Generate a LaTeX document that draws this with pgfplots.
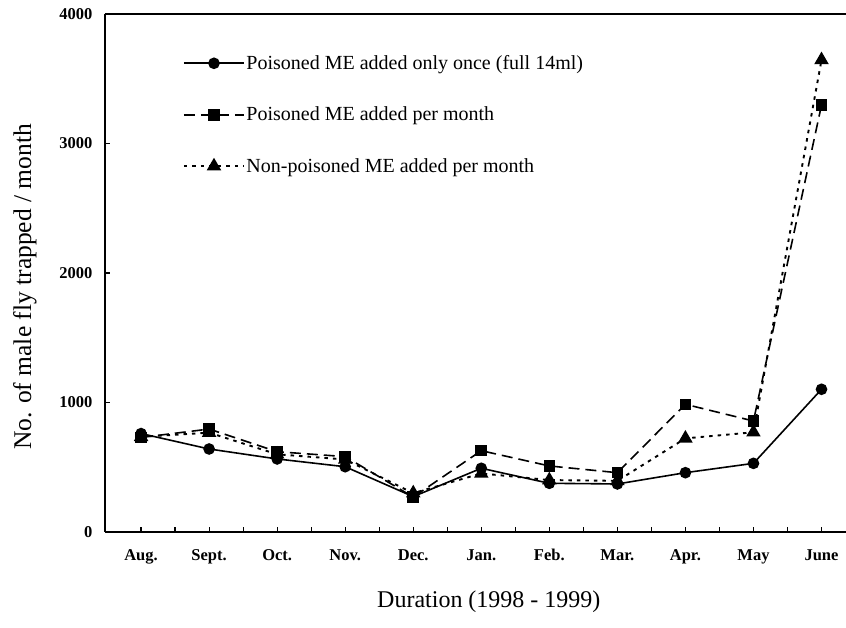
\documentclass[border=0pt]{standalone}
\usepackage{fontspec}
\setmainfont{Liberation Serif}
\usepackage{pgfplots}
\pgfplotsset{compat=1.18}

\begin{document}
\begin{tikzpicture}
\begin{axis}[
    scale only axis,
    width=741pt, height=518pt,
    xmin=-0.53, xmax=10.36,
    ymin=0, ymax=4000,
    axis x line=box, axis y line=left,
    axis line style={-, line width=1.6pt},
    xtick={0,...,10},
    xticklabels={Aug.,Sept.,Oct.,Nov.,Dec.,Jan.,Feb.,Mar.,Apr.,May,June},
    minor x tick num=1,
    xtick pos=bottom,
    ytick={0,1000,2000,3000,4000},
    ytick pos=left,
    tick align=inside,
    major tick length=5pt, minor tick length=5pt,
    tick style={line width=1.2pt, black},
    /pgf/number format/assume math mode=true,
    /pgf/number format/1000 sep={},
    tick label style={font=\fontsize{16.5}{16.5}\selectfont\bfseries},
    yticklabel style={xshift=-9pt},
    xticklabel style={yshift=-14pt},
    xlabel={Duration (1998 - 1999)},
    ylabel={No. of male fly trapped / month},
    xlabel style={font=\fontsize{24}{24}\selectfont,
        at={(axis description cs:0.518,-0.135)}, anchor=center},
    ylabel style={font=\fontsize{25.5}{25.5}\selectfont,
        at={(axis description cs:-0.108,0.473)}, anchor=center},
    legend style={at={(axis description cs:0.101,0.927)}, anchor=north west,
        draw=none, fill=none, row sep=33pt,
        font=\fontsize{20}{20}\selectfont,
        nodes={inner sep=1.5pt}},
    legend cell align=left,
    legend image code/.code={%
        \draw[mark repeat=2, mark phase=2] plot coordinates {(0pt,0pt) (30pt,0pt) (60pt,0pt)};},
    every axis plot/.append style={line width=1.6pt, black},
]
\addplot[solid, mark=*, mark size=5pt, mark options={solid}] coordinates {
    (0,760) (1,641) (2,564) (3,504) (4,273) (5,492)
    (6,376) (7,371) (8,458) (9,530) (10,1102)
};
\addlegendentry{Poisoned ME added only once (full 14ml)}
\addplot[dash pattern=on 11pt off 6pt, mark=square*, mark size=5pt, mark options={solid}] coordinates {
    (0,730) (1,795) (2,620) (3,582) (4,270) (5,628)
    (6,510) (7,458) (8,986) (9,857) (10,3297)
};
\addlegendentry{Poisoned ME added per month}
\addplot[dash pattern=on 3.5pt off 5pt, line width=1.9pt, mark=triangle*, mark size=6.5pt, mark options={solid}] coordinates {
    (0,735) (1,767) (2,600) (3,560) (4,300) (5,452)
    (6,401) (7,395) (8,723) (9,770) (10,3645)
};
\addlegendentry{Non-poisoned ME added per month}
\coordinate (sw) at (rel axis cs:0,0);
\end{axis}
\pgfresetboundingbox
\path ([shift={(-105pt,-96pt)}]sw) rectangle ([shift={(741pt,532pt)}]sw);
\end{tikzpicture}
\end{document}
